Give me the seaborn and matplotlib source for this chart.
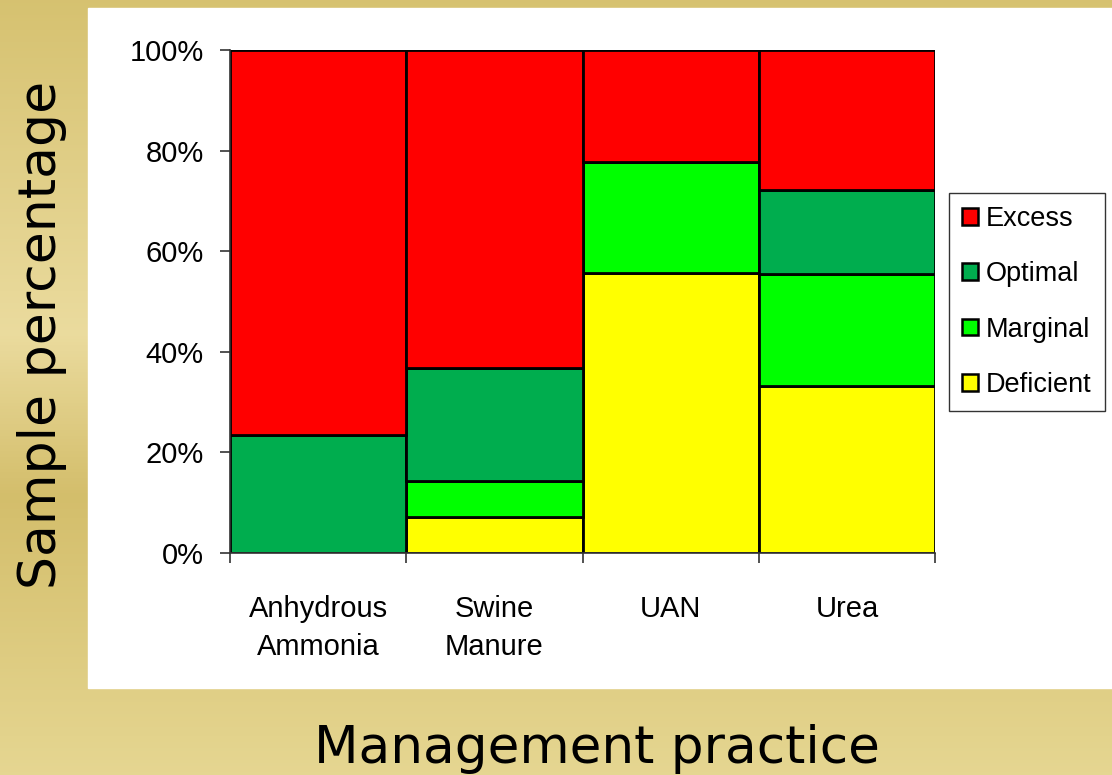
import numpy as np
import pandas as pd
import seaborn as sns
import matplotlib.pyplot as plt
from matplotlib.patches import Patch, Rectangle
from matplotlib.colors import LinearSegmentedColormap
from matplotlib.ticker import PercentFormatter

# data (percent of samples per class)
practices = ["Anhydrous\nAmmonia", "Swine\nManure", "UAN", "Urea"]
classes = ["Excess", "Optimal", "Marginal", "Deficient"]
excess = [76.5, 63.2, 22.2, 27.8]
optimal = [23.5, 22.5, 0.0, 16.7]
marginal = [0.0, 7.2, 22.2, 22.2]
deficient = [0.0, 7.1, 55.6, 33.3]
colors = ["#FF0000", "#00AD4E", "#00FF00", "#FFFF00"]

rows = []
for cls, vals in zip(classes, [excess, optimal, marginal, deficient]):
    for p, v in zip(practices, vals):
        if v > 0:
            rows.append({"practice": p, "class": cls, "pct": v})
df = pd.DataFrame(rows)
df["practice"] = pd.Categorical(df["practice"], categories=practices)

fig = plt.figure(figsize=(11.12, 7.75), dpi=100)

# gold gradient background + white panel
bg = fig.add_axes([0, 0, 1, 1], zorder=-10)
gold = LinearSegmentedColormap.from_list("gold", [
    (0.0, (0.84, 0.76, 0.44)),
    (0.43, (0.92, 0.86, 0.62)),
    (0.64, (0.83, 0.745, 0.42)),
    (1.0, (0.90, 0.84, 0.57)),
])
bg.imshow(np.linspace(0, 1, 256).reshape(-1, 1), aspect="auto", cmap=gold,
          extent=[0, 1, 0, 1], origin="upper")
bg.add_patch(Rectangle((88 / 1112, 1 - 688 / 775), 1024 / 1112, 680 / 775,
                       color="white", transform=bg.transAxes))
bg.set_axis_off()

ax = fig.add_axes([230 / 1112, 1 - 553 / 775, 705 / 1112, 503 / 775])
ax.set_facecolor("none")

sns.histplot(data=df, x="practice", hue="class", weights="pct",
             hue_order=classes, palette=colors, multiple="stack",
             discrete=True, shrink=1, alpha=1, edgecolor="black",
             linewidth=2.0, legend=False, ax=ax)

ax.set_xlim(-0.5, 3.5)
ax.set_ylim(0, 100)
ax.set_yticks(np.arange(0, 101, 20))
ax.yaxis.set_major_formatter(PercentFormatter(decimals=0))
ax.set_xticks(range(len(practices)))
ax.set_xticklabels(practices, fontfamily="Liberation Sans", fontsize=21,
                   linespacing=1.45)
ax.set_xticks(np.arange(-0.5, 4, 1), minor=True)
ax.tick_params(axis="x", which="major", length=0, pad=30)
ax.tick_params(axis="x", which="minor", length=7, width=1.2, color="#333333")
ax.tick_params(axis="y", length=7, width=1.2, color="#333333", pad=12)
for lab in ax.get_yticklabels():
    lab.set_fontfamily("Liberation Sans")
    lab.set_fontsize(21)
ax.set_xlabel("")
ax.set_ylabel("")
for s in ["top", "right"]:
    ax.spines[s].set_visible(False)
for s in ["left", "bottom"]:
    ax.spines[s].set_color("#333333")
    ax.spines[s].set_linewidth(1.2)

handles = [Patch(facecolor=c, edgecolor="black", linewidth=1.8) for c in colors]
fig.legend(handles, classes, loc="center",
           bbox_to_anchor=((947 + 1107) / 2 / 1112, 1 - (192 + 412) / 2 / 775),
           prop={"family": "Liberation Sans", "size": 19.5},
           frameon=True, fancybox=False, edgecolor="#333333", framealpha=1,
           handlelength=0.57, handleheight=0.57, handletextpad=0.3,
           labelspacing=1.08, borderpad=0.5)

fig.text(42 / 1112, 1 - 335 / 775, "Sample percentage", rotation=90,
         ha="center", va="center", fontfamily="DejaVu Sans", fontsize=37.5)
fig.text(597 / 1112, 1 - 763 / 775, "Management practice", ha="center",
         va="baseline", fontfamily="DejaVu Sans", fontsize=37.2)

fig.savefig("out.png", dpi=100)
